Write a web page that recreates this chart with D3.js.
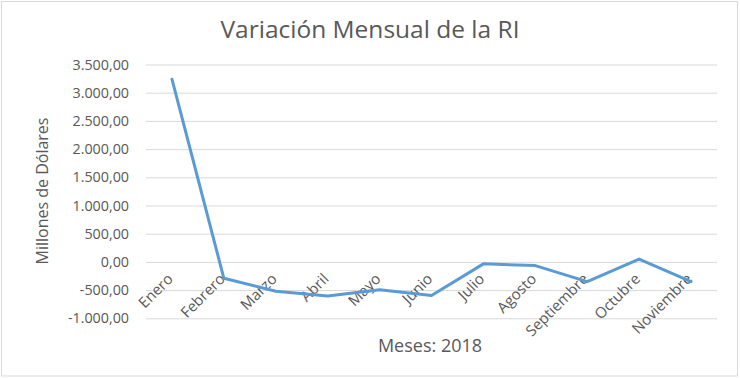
<!DOCTYPE html>
<html>
<head>
<meta charset="utf-8">
<script src="https://cdn.jsdelivr.net/npm/d3@7"></script>
<style>
  html, body { margin: 0; padding: 0; background: #fff; }
  svg { display: block; }
  text { font-family: "Open Sans", "Noto Sans", sans-serif; fill: #595959; }
</style>
</head>
<body>
<svg id="chart" width="740" height="378"></svg>
<script>
const months = ["Enero","Febrero","Marzo","Abril","Mayo","Junio","Julio","Agosto","Septiembre","Octubre","Noviembre"];
const values = [3240, -290, -520, -605, -495, -595, -35, -65, -350, 50, -350];
const yTicks = [-1000, -500, 0, 500, 1000, 1500, 2000, 2500, 3000, 3500];
const title = "Variación Mensual de la RI";
const yTitle = "Millones de Dólares";
const xTitle = "Meses: 2018";

const svg = d3.select("#chart");
const W = 740, H = 378;
const m = { left: 146, right: 23, top: 64.5, bottom: 59.7 };

svg.append("rect").attr("x", 1.5).attr("y", 1.5).attr("width", W - 4).attr("height", H - 3.5)
  .attr("fill", "#fff").attr("stroke", "#d9d9d9").attr("stroke-width", 1);

const x = d3.scaleBand().domain(months).range([m.left, W - m.right]).paddingInner(0).paddingOuter(0);
const y = d3.scaleLinear().domain([-1000, 3500]).range([H - m.bottom, m.top]);

const fmt = v => {
  const s = d3.format(",.2f")(v);
  return s.replace(/,/g, "#").replace(/\./g, ",").replace(/#/g, ".").replace("−", "-");
};

// gridlines + y tick labels
const yAxis = d3.axisLeft(y).tickValues(yTicks).tickSize(-(W - m.left - m.right)).tickFormat(fmt).tickPadding(17);
const gy = svg.append("g").attr("transform", `translate(${m.left},0)`).call(yAxis);
gy.select(".domain").remove();
gy.selectAll(".tick line").attr("stroke", "#d9d9d9").attr("stroke-width", 1);
gy.selectAll(".tick text").attr("font-size", 14.3).attr("fill", "#595959")
  .attr("font-family", "'Open Sans', sans-serif");

// x axis labels at zero
const xAxis = d3.axisBottom(x).tickSize(0).tickPadding(0);
const gx = svg.append("g").attr("transform", `translate(0,${y(0)})`).call(xAxis);
gx.select(".domain").remove();
gx.selectAll(".tick text")
  .attr("font-size", 15).attr("fill", "#595959")
  .attr("font-family", "'Open Sans', sans-serif")
  .attr("text-anchor", "end")
  .attr("dy", null)
  .attr("y", 0)
  .attr("transform", "translate(2,18) rotate(-45)");

// line
const line = d3.line().x((d, i) => x(months[i]) + x.bandwidth() / 2).y(d => y(d));
svg.append("path").datum(values).attr("d", line)
  .attr("fill", "none").attr("stroke", "#5b9bd5").attr("stroke-width", 3)
  .attr("stroke-linejoin", "round").attr("stroke-linecap", "round");

// titles
svg.append("text").attr("x", 370).attr("y", 38).attr("text-anchor", "middle")
  .attr("font-size", 24.5).text(title);
svg.append("text").attr("transform", `translate(48,191) rotate(-90)`).attr("text-anchor", "middle")
  .attr("font-size", 16).text(yTitle);
svg.append("text").attr("x", 430).attr("y", 352).attr("text-anchor", "middle")
  .attr("font-size", 18).text(xTitle);
</script>
</body>
</html>
